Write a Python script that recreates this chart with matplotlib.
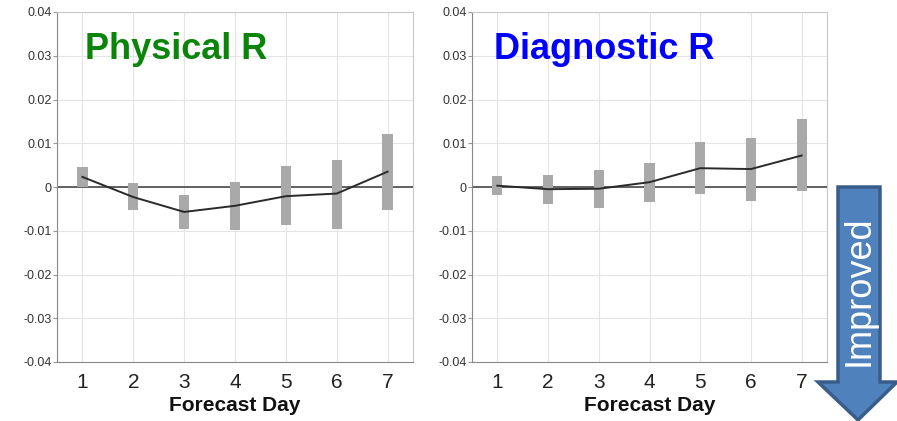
import numpy as np
import matplotlib
matplotlib.use("Agg")
from matplotlib import pyplot as plt
from matplotlib.patches import Polygon

plt.rcParams['font.family'] = ['Liberation Sans', 'DejaVu Sans']

# 数据
days = [1, 2, 3, 4, 5, 6, 7]
phys_mean = [0.0023, -0.0023, -0.0057, -0.0043, -0.0021, -0.0015, 0.0035]
phys_low = [0.0, -0.0053, -0.0095, -0.0099, -0.0087, -0.0095, -0.0053]
phys_high = [0.0046, 0.0010, -0.0019, 0.0012, 0.0047, 0.0062, 0.0121]
diag_mean = [0.0003, -0.0005, -0.0004, 0.0011, 0.0043, 0.0041, 0.0072]
diag_low = [-0.0019, -0.0038, -0.0047, -0.0035, -0.0017, -0.0032, -0.0010]
diag_high = [0.0025, 0.0028, 0.0038, 0.0054, 0.0103, 0.0111, 0.0155]
yticks = [-0.04, -0.03, -0.02, -0.01, 0, 0.01, 0.02, 0.03, 0.04]
ytick_labels = ['-0.04', '-0.03', '-0.02', '-0.01', '0', '0.01', '0.02', '0.03', '0.04']

fig = plt.figure(figsize=(8.97, 4.21), dpi=100)

def draw_panel(rect, mean, low, high, title, tcolor, tx):
    ax = fig.add_axes(rect)
    ax.set_xlim(0.5, 7.5)
    ax.set_ylim(-0.04, 0.04)
    ax.grid(True, color='#e4e4e4', lw=0.8)
    ax.set_axisbelow(True)
    ax.axhline(0, color='#555555', lw=1.3, zorder=2)
    h = np.array(high) - np.array(low)
    ax.bar(days, h, bottom=low, width=0.2, color='#a9a9a9', zorder=3)
    ax.plot(days, mean, color='#2a2a2a', lw=1.4, zorder=4)
    ax.set_xticks(days)
    ax.set_xticklabels([str(d) for d in days], fontsize=15, color='#222222')
    ax.set_yticks(yticks)
    ax.set_yticklabels(ytick_labels, fontsize=9, color='#333333')
    ax.tick_params(axis='y', length=3, color='#999999', pad=1)
    ax.tick_params(axis='x', length=0, pad=8)
    for s in ax.spines.values():
        s.set_color('#c8c8c8')
    ax.spines['left'].set_color('#888888')
    ax.spines['bottom'].set_color('#888888')
    ax.set_xlabel('Forecast Day', fontsize=15, fontweight='bold', color='#111111', labelpad=3)
    ax.text(tx, 0.866, title, transform=ax.transAxes, fontsize=26, fontweight='bold',
            color=tcolor, va='baseline', ha='left')
    return ax

draw_panel([57/897, 59/421, 356/897, 350/421], phys_mean, phys_low, phys_high,
           'Physical R', '#0a850a', 0.079)
draw_panel([472/897, 59/421, 355/897, 350/421], diag_mean, diag_low, diag_high,
           'Diagnostic R', '#0000ff', 0.062)

# 箭头 "Improved"
W, H = 897.0, 421.0
pts = [(838, 187), (880, 187), (880, 382), (897, 382), (858, 420), (818, 382), (838, 382)]
pts = [(x / W, 1 - y / H) for x, y in pts]
arrow = Polygon(pts, closed=True, transform=fig.transFigure, facecolor='#4f81bd',
                edgecolor='#385d8a', lw=2.5, clip_on=False)
fig.patches.append(arrow)
fig.text(859 / W, 1 - 291 / H, 'Improved', rotation=90, color='white', fontsize=26,
         ha='center', va='center')

plt.savefig('out.png', dpi=100)
